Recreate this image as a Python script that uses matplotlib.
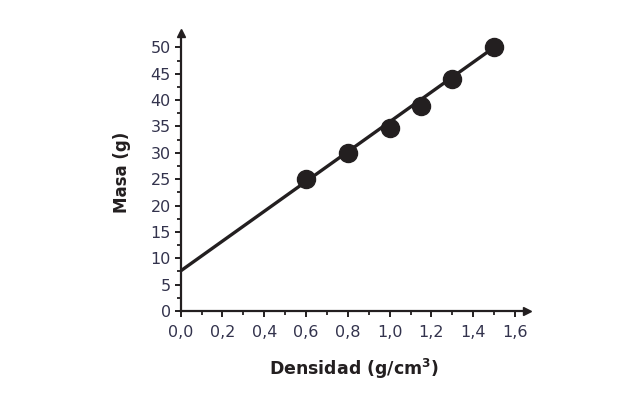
import matplotlib.pyplot as plt
import numpy as np

# data
densidad = [0.6, 0.8, 1.0, 1.15, 1.3, 1.5]
masa = [25, 30, 34.7, 38.8, 44, 50]
recta_x = [0.0, 1.5]
recta_y = [7.6, 50]

x_ticks = [0.0, 0.2, 0.4, 0.6, 0.8, 1.0, 1.2, 1.4, 1.6]
x_ticklabels = ['0,0', '0,2', '0,4', '0,6', '0,8', '1,0', '1,2', '1,4', '1,6']
y_ticks = [0, 5, 10, 15, 20, 25, 30, 35, 40, 45, 50]

color = '#231f20'

fig = plt.figure(figsize=(6.28, 3.99), dpi=100)
ax = fig.add_axes([0.2877, 0.2206, 0.5513, 0.6964])

ax.plot(recta_x, recta_y, color=color, lw=2.4, solid_capstyle='butt', zorder=2)
ax.plot(densidad, masa, 'o', color=color, markersize=13, zorder=3)

ax.set_xlim(0, 1.657)
ax.set_ylim(0, 52.7)

for s in ['top', 'right']:
    ax.spines[s].set_visible(False)
for s in ['left', 'bottom']:
    ax.spines[s].set_linewidth(1.6)
    ax.spines[s].set_color(color)

# arrow heads on the axes
ax.plot(1, 0, '>', color=color, markersize=6, transform=ax.get_yaxis_transform(), clip_on=False)
ax.plot(0, 1, '^', color=color, markersize=6, transform=ax.get_xaxis_transform(), clip_on=False)

ax.set_xticks(x_ticks)
ax.set_xticklabels(x_ticklabels)
ax.set_xticks(np.arange(0.1, 1.6, 0.2), minor=True)
ax.set_yticks(y_ticks)
ax.set_yticks(np.arange(2.5, 50, 5), minor=True)

ax.tick_params(axis='both', which='major', direction='out', length=4, width=1.4,
               colors=color, labelsize=11.5, pad=3)
ax.tick_params(axis='x', which='major', pad=6)
ax.tick_params(axis='both', which='minor', direction='out', length=3, width=1.3, colors=color)
for lab in ax.get_xticklabels() + ax.get_yticklabels():
    lab.set_color('#33334d')

ax.set_xlabel('Densidad (g/cm$^\\mathbf{3}$)', fontsize=12.5, fontweight='bold', color=color, labelpad=12)
ax.set_ylabel('Masa (g)', fontsize=12, fontweight='bold', color=color, labelpad=14)

plt.savefig('out.png', dpi=100)
plt.close()
